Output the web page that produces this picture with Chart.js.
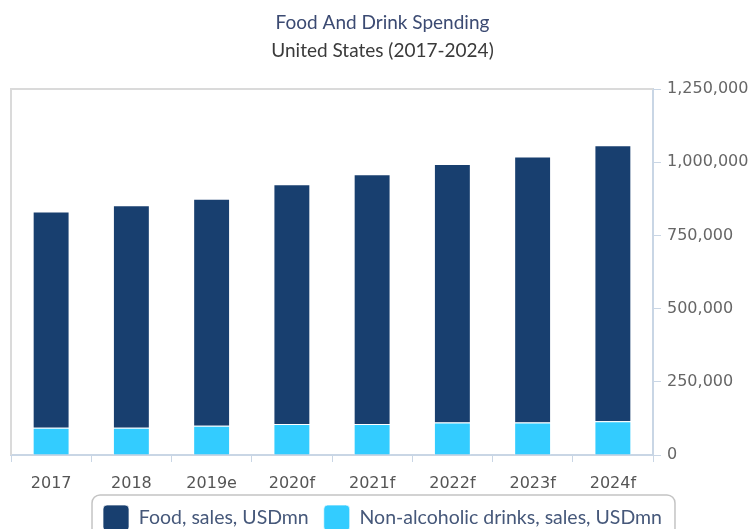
<!DOCTYPE html>
<html lang="en">
<head>
  <meta charset="UTF-8">
  <title>Food And Drink Spending</title>
  <script src="https://cdn.jsdelivr.net/npm/chart.js"></script>
  <style>
    html, body { margin: 0; padding: 0; background: #ffffff; }
    #wrap { width: 754px; height: 529px; }
  </style>
</head>
<body>
<div id="wrap">
  <canvas id="spendChart" width="754" height="529"></canvas>
</div>

<script>
  const years = ["2017", "2018", "2019e", "2020f", "2021f", "2022f", "2023f", "2024f"];
  const foodSales = [739000, 760000, 775000, 819000, 853000, 883000, 909000, 943000];
  const drinkSales = [93000, 93000, 100000, 106000, 106000, 111000, 111000, 115000];
  const yTicks = [0, 250000, 500000, 750000, 1000000, 1250000];

  // grey frame on the top and left of the plot, plus the rounded legend box
  const framePlugin = {
    id: 'frame',
    beforeDatasetsDraw(chart) {
      const { ctx, chartArea } = chart;
      ctx.save();
      ctx.strokeStyle = '#dadada';
      ctx.lineWidth = 2;
      ctx.beginPath();
      ctx.moveTo(chartArea.left, chartArea.bottom);
      ctx.lineTo(chartArea.left, chartArea.top);
      ctx.lineTo(chartArea.right, chartArea.top);
      ctx.stroke();
      ctx.restore();
    },
    afterDraw(chart) {
      const lg = chart.legend;
      if (!lg || !lg.legendHitBoxes.length) return;
      const boxes = lg.legendHitBoxes;
      const first = boxes[0], last = boxes[boxes.length - 1];
      const ctx = chart.ctx;
      ctx.save();
      ctx.strokeStyle = '#c4c4c4';
      ctx.lineWidth = 1.5;
      ctx.beginPath();
      ctx.roundRect(first.left - 11, first.top - 10, last.left + last.width - first.left + 24, 60, 8);
      ctx.stroke();
      ctx.restore();
    }
  };

  const ctx = document.getElementById('spendChart').getContext('2d');
  new Chart(ctx, {
    type: 'bar',
    data: {
      labels: years,
      datasets: [
        {
          label: 'Non-alcoholic drinks, sales, USDmn',
          data: drinkSales,
          backgroundColor: '#33ccff',
          borderColor: 'rgba(255,255,255,0.7)',
          borderWidth: 1
        },
        {
          label: 'Food, sales, USDmn',
          data: foodSales,
          backgroundColor: '#183f6f',
          borderColor: 'rgba(255,255,255,0.7)',
          borderWidth: 1
        }
      ]
    },
    options: {
      responsive: false,
      animation: false,
      layout: { padding: { left: 11, right: 0, top: 0, bottom: -12 } },
      datasets: { bar: { categoryPercentage: 0.92, barPercentage: 0.5 } },
      plugins: {
        title: {
          display: true,
          text: 'Food And Drink Spending',
          color: '#3b4a72',
          font: { family: 'Lato', size: 19, weight: 'normal' },
          padding: { top: 11, bottom: 6 }
        },
        subtitle: {
          display: true,
          text: 'United States (2017-2024)',
          color: '#3a3a3a',
          font: { family: 'Lato', size: 19, weight: 'normal' },
          padding: { top: 0, bottom: 26.5 }
        },
        legend: {
          position: 'bottom',
          labels: {
            boxWidth: 26,
            boxHeight: 26,
            useBorderRadius: true,
            borderRadius: 4,
            padding: 15,
            color: '#46587a',
            font: { family: 'Lato', size: 19.5 },
            sort: (a, b) => b.datasetIndex - a.datasetIndex
          }
        },
        tooltip: { enabled: false }
      },
      scales: {
        x: {
          stacked: true,
          afterFit(axis) { axis.height = 35; },
          grid: { drawOnChartArea: false, drawTicks: true, tickLength: 7, color: '#c9d6e5', offset: true },
          border: { color: '#c9d6e5', width: 2 },
          ticks: { color: '#555', font: { family: 'DejaVu Sans', size: 16 }, padding: 12 }
        },
        y: {
          stacked: true,
          position: 'right',
          min: 0,
          max: 1250000,
          afterBuildTicks(axis) { axis.ticks = yTicks.map(v => ({ value: v })); },
          afterFit(axis) { axis.width = 101; },
          grid: { drawOnChartArea: false, drawTicks: true, tickLength: 8, color: '#c9d6e5' },
          border: { color: '#c9d6e5', width: 2 },
          ticks: {
            color: '#666',
            font: { family: 'DejaVu Sans', size: 16 },
            padding: 6,
            callback: v => v.toLocaleString('en-US')
          }
        }
      }
    },
    plugins: [framePlugin]
  });
</script>
</body>
</html>
